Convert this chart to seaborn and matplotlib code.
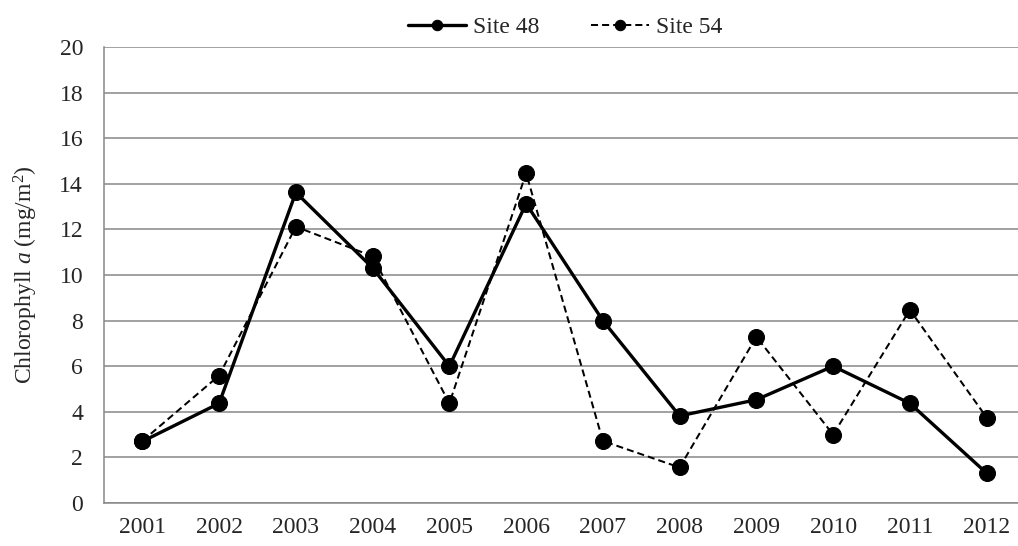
import numpy as np
import pandas as pd
import matplotlib
matplotlib.use("Agg")
import matplotlib.pyplot as plt
import seaborn as sns

years = ["2001", "2002", "2003", "2004", "2005", "2006",
         "2007", "2008", "2009", "2010", "2011", "2012"]
site48 = [2.7, 4.37, 13.62, 10.31, 6.0, 13.13, 8.0, 3.82, 4.53, 6.0, 4.37, 1.31]
site54 = [2.72, 5.59, 12.12, 10.82, 4.37, 14.47, 2.72, 1.56, 7.29, 3.0, 8.47, 3.75]
yticks = list(range(0, 21, 2))

df = pd.DataFrame({"Year": years * 2,
                   "Chl": site48 + site54,
                   "Site": ["Site 48"] * 12 + ["Site 54"] * 12})

sns.set_style("white")
plt.rcParams['font.family'] = ['Liberation Serif', 'DejaVu Serif']
plt.rcParams['mathtext.fontset'] = 'custom'
plt.rcParams['mathtext.rm'] = 'Liberation Serif'
plt.rcParams['mathtext.it'] = 'Liberation Serif:italic'

fig = plt.figure(figsize=(10.18, 5.46), dpi=100)
ax = fig.add_axes([104 / 1018, 43 / 546, 921 / 1018, 456 / 546])

sns.lineplot(data=df[df.Site == "Site 48"], x="Year", y="Chl", ax=ax,
             color="black", linewidth=2.4, marker="o", markersize=11.5,
             markeredgecolor="black", label="Site 48")
sns.lineplot(data=df[df.Site == "Site 54"], x="Year", y="Chl", ax=ax,
             color="black", linewidth=1.45, linestyle=(0, (3.5, 2)), marker="o",
             markersize=11.5, markeredgecolor="black", label="Site 54")

grid_c = "#888888"
ax.set_ylim(0, 20)
ax.set_xlim(-0.5, 11.5)
ax.set_yticks(yticks)
ax.set_yticklabels([str(v) for v in yticks], fontsize=17)
ax.set_xticks(range(12))
ax.set_xticklabels(years, fontsize=17)
ax.set_xticks(np.arange(-0.5, 12, 1), minor=True)
ax.tick_params(axis="x", which="major", length=0, pad=10)
ax.tick_params(axis="x", which="minor", length=5, color=grid_c, width=1.1, direction="out")
ax.tick_params(axis="y", length=5, color=grid_c, width=1.1, direction="out", pad=10)
ax.yaxis.grid(True, color=grid_c, linewidth=1.1)
ax.xaxis.grid(False)
ax.set_axisbelow(True)
for s in ["top", "right"]:
    ax.spines[s].set_visible(False)
for s in ["left", "bottom"]:
    ax.spines[s].set_color(grid_c)
    ax.spines[s].set_linewidth(1.1)

ax.set_xlabel("")
ax.set_ylabel(r"Chlorophyll $\it{a}$ (mg/m$^2$)", fontsize=17, labelpad=14)

leg = ax.legend(loc="center", bbox_to_anchor=(565 / 1018, 1 - 27 / 546),
                bbox_transform=fig.transFigure, ncol=2, frameon=False,
                fontsize=17, handlelength=2.45, columnspacing=2.2, handletextpad=0.3)
for h in leg.legend_handles:
    h.set_markersize(7.5)

fig.savefig("out.png", dpi=100)
